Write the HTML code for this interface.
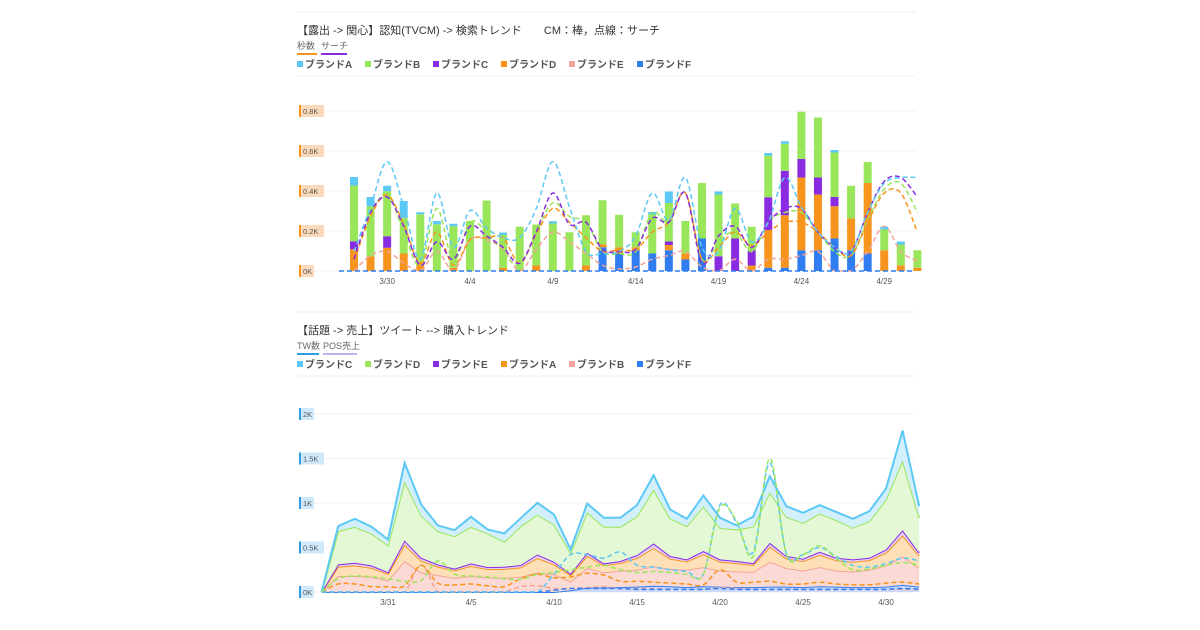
<!DOCTYPE html>
<html><head><meta charset="utf-8">
<style>
body{margin:0;background:#fff;width:1200px;height:630px;overflow:hidden;font-family:"Liberation Sans","Noto Sans CJK JP",sans-serif;}
svg{position:absolute;left:0;top:0}
</style></head>
<body>
<svg id="c" width="1200" height="630"></svg>
<script>
// ---- top chart data (3/28 .. 5/1) ----
const topDates=['3/28','3/29','3/30','3/31','4/1','4/2','4/3','4/4','4/5','4/6','4/7','4/8','4/9','4/10','4/11','4/12','4/13','4/14','4/15','4/16','4/17','4/18','4/19','4/20','4/21','4/22','4/23','4/24','4/25','4/26','4/27','4/28','4/29','4/30','5/1'];
const topTicks=['3/30','4/4','4/9','4/14','4/19','4/24','4/29'];
const cmF=[0,0,0,0,0,0,0,0,0,0,0,0,0,0,0,95,70,83,70,83,46,130,0,0,0,13,13,83,83,130,83,70,0,0,0];
const cmD=[87,59,93,70,37,0,13,0,0,13,0,22,0,0,22,12,25,12,0,21,24,0,0,0,22,151,210,291,223,129,127,282,83,22,13];
const cmC=[32,0,46,0,0,0,0,0,0,0,0,0,0,0,0,0,0,0,0,14,0,0,59,130,60,131,178,74,68,37,0,0,0,0,0];
const cmB=[223,200,180,143,190,187,166,200,282,131,177,164,190,155,201,176,130,60,156,154,130,222,247,140,95,167,108,189,240,178,131,84,83,84,70];
const cmA=[34,37,22,67,8,13,10,0,0,10,0,0,9,0,0,0,0,0,10,46,0,0,12,0,0,10,10,0,0,10,0,0,12,12,0];
const srA=[78,257,437,257,47,312,94,242,172,133,133,250,437,257,78,70,78,140,312,203,374,94,78,250,117,195,374,257,156,94,78,234,351,374,374];
const srC=[47,234,296,179,23,117,47,179,140,94,31,156,312,187,195,86,78,86,211,195,312,31,140,179,94,195,250,250,156,94,78,234,359,374,296];
const srD=[39,218,304,187,31,156,23,125,133,133,31,148,250,195,133,78,86,86,156,195,312,47,94,156,101,156,195,195,156,94,62,195,312,312,156];
const srE=[0,62,78,31,0,78,0,125,125,86,0,86,156,117,70,23,8,16,47,62,78,16,0,47,0,47,47,62,78,0,0,78,179,78,39];
const srB=[39,218,312,156,23,250,39,195,156,78,23,156,273,218,195,78,70,78,234,195,312,47,117,156,78,195,234,234,156,78,62,203,328,351,234];
const topYTicks=['0K','0.2K','0.4K','0.6K','0.8K'];
// ---- bottom chart data (3/27 .. 5/2) ----
const botDates=['3/27','3/28','3/29','3/30','3/31','4/1','4/2','4/3','4/4','4/5','4/6','4/7','4/8','4/9','4/10','4/11','4/12','4/13','4/14','4/15','4/16','4/17','4/18','4/19','4/20','4/21','4/22','4/23','4/24','4/25','4/26','4/27','4/28','4/29','4/30','5/1','5/2'];
const botTicks=['3/31','4/5','4/10','4/15','4/20','4/25','4/30'];
const twF=[0,0,0,0,0,0,0,0,0,0,0,0,0,0,0,20,50,50,55,60,70,65,55,65,60,55,55,60,60,55,65,60,55,55,60,80,60];
const twB=[0,180,180,170,130,348,220,190,160,180,165,160,170,220,200,100,220,170,185,190,220,195,195,215,180,175,170,280,210,185,215,180,175,195,240,320,210];
const twA=[0,104,119,103,75,185,132,96,82,113,92,99,106,162,112,69,137,81,86,132,205,115,93,144,101,94,79,170,107,107,138,116,109,108,142,236,137];
const twE=[0,26,30,26,19,46,33,24,20,28,23,25,27,40,28,17,34,20,22,33,51,29,23,36,25,24,20,43,27,27,34,29,27,27,36,59,34];
const twD=[0,374,404,359,299,666,475,374,366,412,378,280,437,449,419,235,456,412,385,437,605,422,374,504,355,355,411,568,441,403,430,422,355,411,561,785,393];
const twC=[0,56,89,75,67,205,123,64,67,112,45,94,90,131,112,37,97,101,101,124,161,101,82,120,113,45,112,180,119,113,94,93,101,112,123,333,130];
const posD=[0,150,180,170,150,120,130,350,200,180,170,150,140,200,220,250,280,300,250,220,230,220,200,200,950,800,400,1500,420,420,520,380,250,260,300,330,300];
const posC=[0,0,0,0,0,0,0,0,0,0,0,0,0,0,200,420,420,380,450,300,280,250,230,200,980,780,450,1450,430,420,500,400,300,280,320,380,350];
const posA=[0,90,90,60,60,70,300,100,80,90,70,60,150,200,160,170,210,190,120,120,110,100,90,80,250,110,110,120,90,90,110,90,80,80,100,110,90];
const posB=[0,0,0,0,0,0,300,0,0,0,0,0,60,70,40,40,50,60,40,40,40,30,30,30,50,40,30,30,30,30,30,30,30,30,30,30,30];
const posF=[0,0,0,0,0,0,0,0,0,0,0,0,0,0,20,40,40,40,40,30,30,30,30,30,40,30,30,30,30,30,30,30,30,30,30,40,30];
const botYTicks=['0K','0.5K','1K','1.5K','2K'];

const NS='http://www.w3.org/2000/svg';
const svg=document.getElementById('c');
function mk(tag,attrs,parent){const e=document.createElementNS(NS,tag);for(const k in attrs)e.setAttribute(k,attrs[k]);(parent||svg).appendChild(e);return e;}
function txt(x,y,s,size,fill,weight,parent){const t=mk('text',{x:x,y:y,'font-size':size,fill:fill,'font-weight':weight||'normal'},parent);t.textContent=s;return t;}
function smooth(pts,base){const cl=y=>Math.min(y,base);let d='M'+pts[0][0]+','+pts[0][1];for(let i=0;i<pts.length-1;i++){const p0=pts[i-1]||pts[i],p1=pts[i],p2=pts[i+1],p3=pts[i+2]||p2;const c1x=p1[0]+(p2[0]-p0[0])/6,c1y=cl(p1[1]+(p2[1]-p0[1])/6),c2x=p2[0]-(p3[0]-p1[0])/6,c2y=cl(p2[1]-(p3[1]-p1[1])/6);d+=' C'+c1x+','+c1y+' '+c2x+','+c2y+' '+p2[0]+','+p2[1];}return d;}

const colA='#5bc8f5',colB='#9ae65a',colC='#8a2be2',colD='#f7941d',colE='#f2a49a',colF='#2f7df0';

function header(y0,title,tabs,legend){
  mk('line',{x1:297,x2:915,y1:y0,y2:y0,stroke:'#eee'});
  const t=txt(297,y0+22,title,11,'#333');
  let x=297;
  tabs.forEach(tb=>{const g=mk('g',{});
    txt(x,y0+37,tb[0],9,'#666','normal',g);mk('rect',{x:x,y:y0+41,width:tb[3],height:2,fill:tb[1]},g);x+=tb[3]+4;});
  x=297;
  legend.forEach(l=>{const g=mk('g',{});
    mk('rect',{x:x,y:y0+49,width:6,height:6,fill:l[1]},g);txt(x+8,y0+56,l[0],10,'#555','bold',g);x+=68;});
  mk('line',{x1:297,x2:915,y1:y0+64,y2:y0+64,stroke:'#f0f0f0'});
}
header(12,'【露出 -> 関心】認知(TVCM) -> 検索トレンド　　CM：棒，点線：サーチ',[['秒数','#f7941d','seconds',20],['サーチ','#8a2be2','search',26]],[['ブランドA',colA],['ブランドB',colB],['ブランドC',colC],['ブランドD',colD],['ブランドE',colE],['ブランドF',colF]]);
header(312,'【話題 -> 売上】ツイート --> 購入トレンド',[['TW数','#2f9be0','tweets',22],['POS売上','#b9b4ea','pos-sales',34]],[['ブランドC',colA],['ブランドD',colB],['ブランドE',colC],['ブランドA',colD],['ブランドB',colE],['ブランドF',colF]]);

function axes(y0px,y1px,ticks,tickLbls,dates,xOf,bg,bd,name){
  const g=mk('g',{});
  ticks.forEach((s,i)=>{const y=y0px+(y1px-y0px)*i/(ticks.length-1);
    mk('line',{x1:300,x2:915,y1:y,y2:y,stroke:'#f0f0f0'},g);
    mk('rect',{x:300,y:y-6,width:s.length*5+4,height:12,fill:bg},g);mk('rect',{x:299,y:y-6,width:2,height:12,fill:bd},g);
    txt(303,y+3,s,7.5,'#555','normal',g);});
  const gx=mk('g',{});
  tickLbls.forEach(s=>{const t=txt(xOf(dates.indexOf(s)),y0px+13,s,8,'#555','normal',gx);t.setAttribute('text-anchor','middle');});
}

// ---- top chart ----
const tx0=354,tdx=16.57,ty0=271,tpx=200/800;
const txOf=i=>tx0+i*tdx, tyOf=v=>ty0-v*tpx;
axes(ty0,111,topYTicks,topTicks,topDates,txOf,'#fbd9bd','#f7941d','top');
const bars=mk('g',{});
topDates.forEach((d,i)=>{let acc=0;
  [[cmF,colF],[cmD,colD],[cmC,colC],[cmB,colB],[cmA,colA]].forEach(([arr,col])=>{const v=arr[i];if(!v)return;
    const r=mk('rect',{x:txOf(i)-4,y:tyOf(acc+v),width:8,height:v*tpx,fill:col},bars);
    acc+=v;});});
[[srE,colE],[srB,colB],[srD,colD],[srC,colC],[srA,colA]].forEach(([arr,col])=>{
  const p=mk('path',{d:smooth(arr.map((v,i)=>[txOf(i),tyOf(v)]),ty0),fill:'none',stroke:col,'stroke-width':1.5,'stroke-dasharray':'5,3'});
  });
const fl=mk('line',{x1:txOf(0)-15,x2:915,y1:ty0,y2:ty0,stroke:colF,'stroke-width':1.5,'stroke-dasharray':'5,3'});


// ---- bottom chart ----
const bx0=321.6,bdx=16.6,by0=592,bpx=178/2000;
const bxOf=i=>bx0+i*bdx, byOf=v=>by0-v*bpx;
axes(by0,414,botYTicks,botTicks,botDates,bxOf,'#cfe9fb','#2f9be0','bottom');
const series=[[twF,colF,'#cdd9fb'],[twB,colE,'#fbd9d4'],[twA,colD,'#fde0b8'],[twE,colC,'#e2d1f7'],[twD,colB,'#e5f8d5'],[twC,colA,'#d3effc']];
const cum=botDates.map(()=>0);
series.forEach(([arr,col,fillc])=>{
  const lower=cum.slice();arr.forEach((v,i)=>cum[i]+=v);
  const top=cum.map((v,i)=>[bxOf(i),byOf(v)]);
  const bot=lower.map((v,i)=>[bxOf(i),byOf(v)]).reverse();
  const a=mk('path',{d:'M'+top.map(p=>p.join(',')).join(' L')+' L'+bot.map(p=>p.join(',')).join(' L')+'Z',fill:fillc});
  
  const l=mk('path',{d:'M'+top.map(p=>p.join(',')).join(' L'),fill:'none',stroke:col,'stroke-width':2});
  
});
[[posB,colE],[posA,colD],[posF,colF],[posC,colA],[posD,colB]].forEach(([arr,col])=>{
  const p=mk('path',{d:smooth(arr.map((v,i)=>[bxOf(i),byOf(v)]),by0),fill:'none',stroke:col,'stroke-width':1.5,'stroke-dasharray':'5,3'});
  });
</script>
</body></html>
